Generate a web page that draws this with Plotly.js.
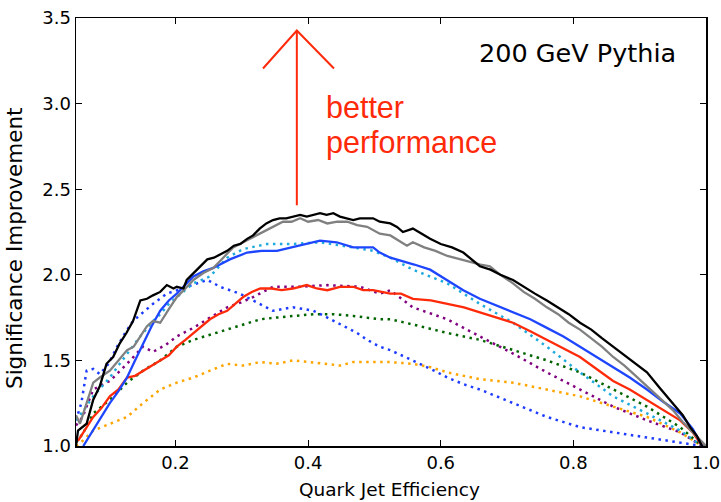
<!DOCTYPE html>
<html><head><meta charset="utf-8">
<script src="https://cdn.plot.ly/plotly-3.0.1.min.js"></script>
<style>html,body{margin:0;padding:0;background:#fff}#chart{width:721px;height:502px}</style>
</head><body><div id="chart"></div>
<script>
// Black solid
const blackX = [0.05,0.053,0.066,0.076,0.086,0.096,0.106,0.116,0.126,0.136,0.147,0.157,0.166,0.177,0.187,0.197,0.202,0.212,0.217,0.227,0.237,0.248,0.258,0.268,0.278,0.288,0.298,0.308,0.317,0.327,0.337,0.347,0.357,0.367,0.377,0.388,0.398,0.408,0.418,0.428,0.438,0.448,0.458,0.468,0.478,0.488,0.498,0.508,0.524,0.534,0.543,0.558,0.570,0.584,0.600,0.617,0.634,0.646,0.659,0.675,0.690,0.709,0.725,0.742,0.760,0.777,0.793,0.810,0.827,0.843,0.860,0.877,0.894,0.911,0.930,0.950,0.965,0.976,0.986,0.994,1.0];
const blackY = [1.0,1.09,1.13,1.27,1.35,1.48,1.52,1.60,1.66,1.73,1.85,1.86,1.88,1.90,1.94,1.92,1.93,1.92,1.97,2.01,2.05,2.09,2.10,2.12,2.14,2.17,2.18,2.21,2.23,2.27,2.30,2.32,2.33,2.33,2.34,2.35,2.34,2.35,2.36,2.35,2.36,2.34,2.33,2.32,2.33,2.33,2.33,2.31,2.30,2.28,2.25,2.27,2.24,2.21,2.18,2.16,2.13,2.09,2.05,2.03,2.00,1.97,1.93,1.89,1.85,1.81,1.77,1.72,1.68,1.63,1.58,1.53,1.48,1.43,1.34,1.25,1.18,1.11,1.06,1.0,0.99];
// Gray solid
const grayX = [0.05,0.056,0.066,0.076,0.086,0.101,0.114,0.127,0.137,0.147,0.157,0.166,0.177,0.190,0.202,0.215,0.227,0.242,0.257,0.272,0.287,0.302,0.317,0.332,0.347,0.362,0.375,0.388,0.400,0.415,0.429,0.444,0.459,0.474,0.489,0.508,0.524,0.537,0.549,0.558,0.575,0.592,0.610,0.630,0.649,0.660,0.674,0.690,0.709,0.725,0.742,0.760,0.777,0.793,0.810,0.827,0.843,0.860,0.877,0.894,0.911,0.930,0.950,0.965,0.980,0.994,1.0];
const grayY = [1.18,1.13,1.25,1.37,1.40,1.44,1.50,1.56,1.58,1.64,1.70,1.73,1.72,1.80,1.87,1.92,1.97,2.01,2.04,2.10,2.16,2.19,2.22,2.25,2.28,2.31,2.31,2.33,2.31,2.32,2.30,2.31,2.31,2.29,2.28,2.24,2.23,2.20,2.17,2.19,2.16,2.14,2.11,2.09,2.07,2.06,2.05,2.00,1.95,1.90,1.86,1.81,1.77,1.72,1.68,1.63,1.58,1.52,1.47,1.41,1.35,1.28,1.21,1.14,1.08,1.02,1.0];
// Blue solid
const blueX = [0.061,0.080,0.101,0.114,0.127,0.139,0.151,0.164,0.177,0.190,0.202,0.215,0.227,0.242,0.257,0.282,0.308,0.330,0.353,0.375,0.398,0.418,0.443,0.468,0.498,0.508,0.524,0.534,0.560,0.584,0.610,0.634,0.659,0.685,0.709,0.735,0.760,0.785,0.810,0.835,0.860,0.885,0.911,0.935,0.961,0.980,0.994];
const blueY = [1.0,1.12,1.25,1.32,1.40,1.50,1.60,1.70,1.79,1.85,1.89,1.94,1.99,2.02,2.04,2.09,2.13,2.14,2.14,2.16,2.18,2.20,2.19,2.16,2.16,2.13,2.10,2.09,2.06,2.03,1.97,1.91,1.86,1.82,1.78,1.74,1.69,1.64,1.58,1.52,1.46,1.40,1.33,1.26,1.19,1.10,1.0];
// Light blue dotted
const cyanX = [0.05,0.060,0.076,0.090,0.101,0.114,0.127,0.139,0.151,0.164,0.177,0.190,0.202,0.215,0.227,0.252,0.278,0.302,0.338,0.377,0.418,0.468,0.498,0.524,0.558,0.610,0.659,0.709,0.760,0.810,0.860,0.911,0.961,0.994];
const cyanY = [1.15,1.20,1.29,1.35,1.40,1.47,1.54,1.60,1.66,1.72,1.77,1.83,1.87,1.91,1.95,1.99,2.10,2.15,2.18,2.18,2.19,2.16,2.14,2.10,2.03,1.95,1.83,1.72,1.58,1.43,1.29,1.19,1.09,1.0];
// Red solid
const redX = [0.053,0.064,0.076,0.088,0.101,0.114,0.127,0.139,0.151,0.164,0.177,0.190,0.202,0.215,0.227,0.240,0.252,0.265,0.278,0.290,0.302,0.315,0.328,0.345,0.360,0.377,0.388,0.398,0.413,0.429,0.448,0.468,0.483,0.498,0.524,0.540,0.558,0.585,0.610,0.635,0.659,0.685,0.709,0.735,0.760,0.785,0.810,0.835,0.860,0.885,0.911,0.935,0.961,0.980,0.994];
const redY = [1.03,1.10,1.17,1.22,1.29,1.33,1.40,1.41,1.44,1.47,1.50,1.53,1.58,1.62,1.66,1.70,1.74,1.77,1.79,1.83,1.87,1.90,1.92,1.92,1.91,1.92,1.93,1.94,1.92,1.91,1.93,1.93,1.91,1.91,1.89,1.89,1.86,1.85,1.83,1.81,1.78,1.75,1.72,1.67,1.62,1.57,1.52,1.45,1.38,1.33,1.27,1.21,1.15,1.08,1.0];
// Purple dotted
const purpleX = [0.05,0.060,0.076,0.101,0.127,0.151,0.166,0.185,0.202,0.227,0.252,0.278,0.300,0.317,0.347,0.388,0.429,0.478,0.508,0.524,0.558,0.610,0.659,0.709,0.760,0.810,0.860,0.911,0.961,0.994];
const purpleY = [1.12,1.17,1.33,1.38,1.48,1.58,1.55,1.59,1.64,1.69,1.75,1.81,1.84,1.87,1.93,1.93,1.94,1.93,1.89,1.91,1.81,1.74,1.64,1.54,1.43,1.33,1.23,1.15,1.08,1.0];
// Green dotted
const greenX = [0.05,0.060,0.076,0.101,0.127,0.151,0.177,0.202,0.227,0.252,0.278,0.302,0.328,0.352,0.377,0.408,0.438,0.468,0.508,0.524,0.558,0.610,0.659,0.709,0.760,0.810,0.860,0.911,0.961,0.994];
const greenY = [1.02,1.07,1.19,1.27,1.37,1.44,1.50,1.58,1.62,1.65,1.68,1.71,1.74,1.75,1.76,1.77,1.77,1.76,1.74,1.74,1.71,1.66,1.62,1.56,1.50,1.43,1.33,1.23,1.11,1.0];
// Orange dotted
const orangeX = [0.05,0.060,0.076,0.101,0.127,0.151,0.177,0.202,0.227,0.252,0.278,0.302,0.328,0.352,0.377,0.403,0.429,0.448,0.468,0.498,0.524,0.558,0.585,0.610,0.635,0.659,0.709,0.760,0.810,0.860,0.911,0.961,0.994];
const orangeY = [1.0,1.03,1.09,1.13,1.17,1.25,1.33,1.37,1.40,1.44,1.48,1.47,1.49,1.48,1.50,1.49,1.48,1.47,1.49,1.49,1.49,1.48,1.46,1.43,1.41,1.39,1.37,1.33,1.29,1.23,1.17,1.08,1.0];
// Blue dotted
const bluedX = [0.05,0.058,0.066,0.076,0.086,0.099,0.112,0.124,0.136,0.151,0.166,0.187,0.202,0.217,0.232,0.248,0.258,0.267,0.282,0.297,0.312,0.328,0.347,0.362,0.377,0.393,0.408,0.429,0.444,0.459,0.474,0.489,0.508,0.524,0.558,0.585,0.610,0.635,0.659,0.709,0.760,0.810,0.860,0.911,0.961,0.994];
const bluedY = [1.15,1.25,1.44,1.45,1.42,1.48,1.58,1.66,1.73,1.78,1.83,1.89,1.91,1.93,1.95,1.97,1.95,1.93,1.91,1.89,1.86,1.83,1.79,1.80,1.81,1.80,1.79,1.75,1.72,1.69,1.66,1.62,1.58,1.56,1.50,1.45,1.40,1.36,1.33,1.25,1.17,1.11,1.08,1.05,1.02,1.0];

const xTicks = [0.2,0.4,0.6,0.8,1.0];
const xTickText = ['0.2','0.4','0.6','0.8','1.0'];
const yTicks = [1.0,1.5,2.0,2.5,3.0,3.5];
const yTickText = ['1.0','1.5','2.0','2.5','3.0','3.5'];

const dotDash = '2.5px,4.5px';
function tr(x, y, color, dash, w) {
  return {x: x, y: y, type: 'scatter', mode: 'lines', line: {color: color, width: w, dash: dash}, hoverinfo: 'skip'};
}
const data = [
  tr(orangeX, orangeY, '#ffa500', dotDash, 2.5),
  tr(greenX, greenY, '#006400', dotDash, 2.5),
  tr(purpleX, purpleY, '#800080', dotDash, 2.5),
  tr(bluedX, bluedY, '#1e3cff', dotDash, 2.5),
  tr(cyanX, cyanY, '#1eaadc', dotDash, 2.5),
  tr(redX, redY, '#ff2a0a', 'solid', 2.3),
  tr(blueX, blueY, '#1e46ff', 'solid', 2.3),
  tr(grayX, grayY, '#808080', 'solid', 2.3),
  tr(blackX, blackY, '#000000', 'solid', 2.3)
];

const fontF = 'DejaVu Sans, sans-serif';
const redF = 'Liberation Sans, Arial, sans-serif';
const layout = {
  width: 721, height: 502,
  margin: {l: 76, r: 15, t: 18, b: 56},
  paper_bgcolor: '#fff', plot_bgcolor: '#fff',
  showlegend: false,
  font: {family: fontF, color: '#000'},
  xaxis: {range: [0.05, 1.0], tickvals: xTicks, ticktext: xTickText, ticks: 'inside', ticklen: 6, tickcolor: '#000',
          showgrid: false, zeroline: false, showline: true, linecolor: '#000', linewidth: 1.5, mirror: 'ticks',
          tickfont: {size: 18, family: fontF}},
  yaxis: {range: [1.0, 3.5], tickvals: yTicks, ticktext: yTickText, ticks: 'inside', ticklen: 6, tickcolor: '#000',
          showgrid: false, zeroline: false, showline: true, linecolor: '#000', linewidth: 1.5, mirror: 'ticks',
          tickfont: {size: 18, family: fontF}},
  shapes: [
    {type: 'path', xref: 'x', yref: 'y', path: 'M 0.383,2.406 L 0.383,3.427', line: {color: '#ff2a0a', width: 2}},
    {type: 'path', xref: 'x', yref: 'y', path: 'M 0.332,3.205 L 0.383,3.427 L 0.439,3.205', line: {color: '#ff2a0a', width: 2}}
  ],
  annotations: [
    {xref: 'paper', yref: 'paper', x: 0.498, y: -0.1028, xanchor: 'center', yanchor: 'middle', showarrow: false,
     text: 'Quark Jet Efficiency', font: {size: 18.5, family: fontF, color: '#000'}},
    {xref: 'paper', yref: 'paper', x: -0.0984, y: 0.4626, xanchor: 'center', yanchor: 'middle', showarrow: false, textangle: -90,
     text: 'Significance Improvement', font: {size: 21.5, family: fontF, color: '#000'}},
    {xref: 'paper', yref: 'paper', x: 0.955, y: 0.918, xanchor: 'right', yanchor: 'middle', showarrow: false,
     text: '200 GeV Pythia', font: {size: 25.5, family: fontF, color: '#000'}},
    {xref: 'paper', yref: 'paper', x: 0.3937, y: 0.793, xanchor: 'left', yanchor: 'middle', showarrow: false, align: 'left',
     text: 'better', font: {size: 30.5, family: redF, color: '#ff2a0a'}},
    {xref: 'paper', yref: 'paper', x: 0.3937, y: 0.709, xanchor: 'left', yanchor: 'middle', showarrow: false, align: 'left',
     text: 'performance', font: {size: 30.5, family: redF, color: '#ff2a0a'}}
  ]
};
Plotly.newPlot('chart', data, layout, {displayModeBar: false, staticPlot: true});
</script></body></html>
